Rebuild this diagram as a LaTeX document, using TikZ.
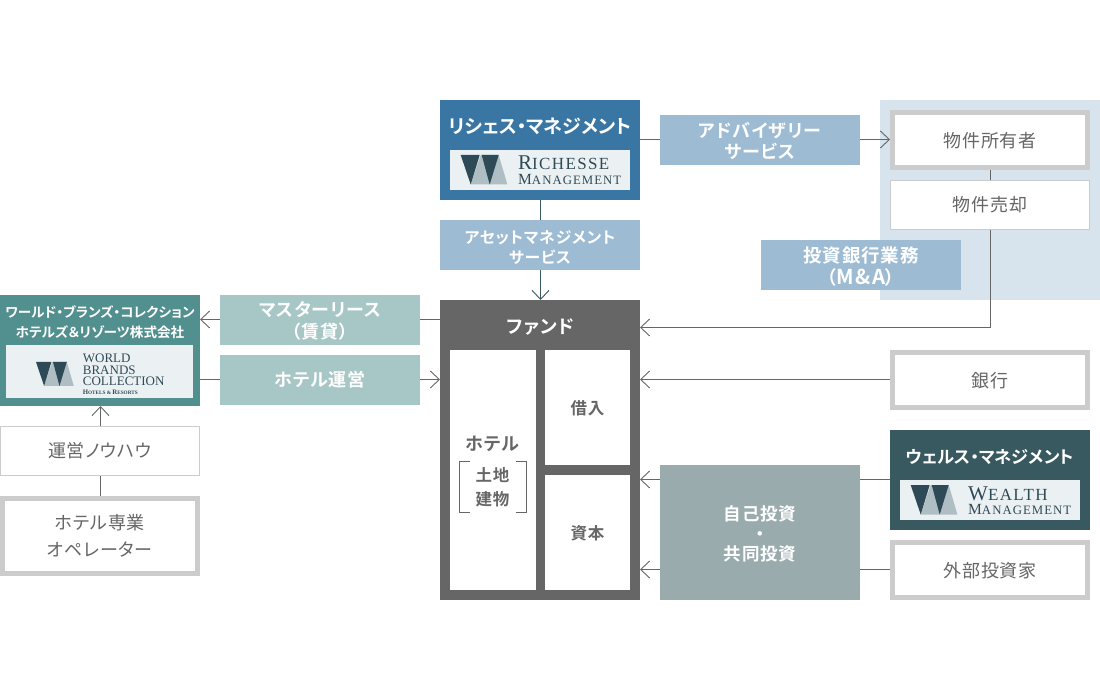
\documentclass[tikz,border=0pt]{standalone}
\usepackage{fontspec}
\setmainfont[RawFeature=+palt,LetterSpace=4]{Noto Sans CJK JP}
\newfontfamily\jpbold[RawFeature=+palt,LetterSpace=5]{Noto Sans CJK JP Bold}
\newfontfamily\jptight[RawFeature=+palt]{Noto Sans CJK JP Bold}
\newfontfamily\logofont[LetterSpace=8]{Liberation Serif}
\newfontfamily\logoplain{Liberation Serif}
\usetikzlibrary{arrows.meta}
\definecolor{richblue}{HTML}{3A76A3}
\definecolor{svcblue}{HTML}{9DBBD2}
\definecolor{palebg}{HTML}{D7E3ED}
\definecolor{tealsvc}{HTML}{A7C7C6}
\definecolor{wbc}{HTML}{528F8F}
\definecolor{fundgrey}{HTML}{666666}
\definecolor{wealth}{HTML}{37595F}
\definecolor{coinv}{HTML}{9AABAD}
\definecolor{frame}{HTML}{CCCCCC}
\definecolor{linegrey}{HTML}{666666}
\definecolor{txtgrey}{HTML}{666666}
\definecolor{logodark}{HTML}{2F4A57}
\definecolor{logolight}{HTML}{AEBEC3}
\definecolor{logobg}{HTML}{EBF1F3}
\newcommand{\lowr}[2][1.5pt]{\raisebox{-#1}[\height][\depth]{\begin{tabular}{@{}c@{}}#2\end{tabular}}}
\tikzset{
 x=1pt,y=-1pt,
 boxfill/.style={inner sep=0pt,outer sep=0pt,align=center,anchor=north west,text=white,font=\jpbold},
 thickbox/.style={draw=frame,line width=5pt,fill=white,inner sep=0pt,outer sep=2.5pt,align=center,anchor=north west,text=txtgrey,font=\fontsize{18}{27}\selectfont},
 thinbox/.style={draw=frame,line width=1pt,fill=white,inner sep=0pt,outer sep=.5pt,align=center,anchor=north west,text=txtgrey,font=\fontsize{18}{26}\selectfont},
 inner/.style={fill=white,inner sep=0pt,outer sep=0pt,align=center,anchor=north west,text=txtgrey,font=\jpbold\fontsize{16.5}{24}\selectfont},
 link/.style={draw=linegrey,line width=.9pt},
 arr/.style={link,-{Straight Barb[length=9pt,width=17pt,line width=.9pt]}},
 logobox/.style={fill=logobg,inner sep=0pt,anchor=north west},
 logotxt/.style={text=logodark,inner sep=0pt,anchor=base west},
}
\newcommand{\wmark}[3]{% x y scale
 \begin{scope}[shift={(#1,#2)},scale=#3]
 \fill[logolight] (10,29.5) -- (20,0) -- (38,0) -- (46.7,29.5) -- cycle;
 \fill[logodark] (0,0) -- (19,0) -- (10,29.5) -- cycle;
 \fill[logodark] (21,0) -- (38,0) -- (29,29.5) -- cycle;
 \end{scope}}
\begin{document}
\begin{tikzpicture}
\useasboundingbox (0,0) rectangle (1100,700);
\fill[white] (0,0) rectangle (1100,700);
\fill[palebg] (880,100) rectangle (1100,300);
% nodes
\node[boxfill,fill=richblue,minimum width=200pt,minimum height=100pt] (rich) at (440,100) {};
\node[text=white,font=\jptight\fontsize{19}{22}\selectfont,inner sep=0pt] (richt) at (540,126) {リシェス・マネジメント};
\node[logobox,minimum width=180pt,minimum height=40pt] (richl) at (450,150) {};
\wmark{460.7}{155}{1}
\node[logotxt,font=\logofont\fontsize{17}{17}\selectfont] (richa) at (518,170) {{\fontsize{21}{21}\selectfont R}ICHESSE};
\node[logotxt,font=\logofont\fontsize{12.8}{14}\selectfont] (richb) at (518,184.5) {{\fontsize{15.5}{15}\selectfont M}ANAGEMENT};

\node[boxfill,fill=svcblue,minimum width=200pt,minimum height=50pt,font=\jpbold\fontsize{15.8}{20}\selectfont] (am) at (440,220) {\lowr[5pt]{アセットマネジメント\\サービス}};
\node[boxfill,fill=svcblue,minimum width=200pt,minimum height=50pt,font=\jpbold\fontsize{18}{20}\selectfont] (adv) at (660,115) {\lowr[3.5pt]{アドバイザリー\\サービス}};
\node[thickbox,minimum width=195pt,minimum height=55pt] (own) at (890,110) {\lowr[2.5pt]{物件所有者}};
\node[thinbox,minimum width=199pt,minimum height=49pt] (sell) at (890,180) {\lowr[1.5pt]{物件売却}};
\node[boxfill,fill=svcblue,minimum width=200pt,minimum height=50pt,font=\jpbold\fontsize{18.5}{21}\selectfont] (ib) at (761,240) {\lowr[3.5pt]{投資銀行業務\\（{\fontsize{20.5}{21}\selectfont\addfontfeature{LetterSpace=8}M\&A}）}};

\node[boxfill,fill=fundgrey,minimum width=200pt,minimum height=300pt] (fund) at (440,300) {};
\node[text=white,font=\jpbold\fontsize{18.5}{20}\selectfont,inner sep=0pt] (fundt) at (540.5,327) {ファンド};
\node[inner,minimum width=86pt,minimum height=240pt] (hotel) at (450,350) {};
\node[inner,minimum width=85pt,minimum height=115pt] (debt) at (545,350) {\lowr[2pt]{借入}};
\node[inner,minimum width=85pt,minimum height=115pt] (cap) at (545,475) {\lowr[2pt]{資本}};
\node[text=txtgrey,font=\jpbold\fontsize{18}{20}\selectfont,inner sep=0pt] (hotelt) at (492,444) {ホテル};
\node[text=txtgrey,font=\jpbold\fontsize{16.5}{24}\selectfont,inner sep=0pt,align=center] (land) at (492.5,487) {土地\\建物};
\draw[linegrey,line width=.7pt] (469.5,461.5) -- (459.5,461.5) -- (459.5,512.5) -- (469.5,512.5);
\draw[linegrey,line width=.7pt] (516,461.5) -- (526,461.5) -- (526,512.5) -- (516,512.5);

\node[boxfill,fill=tealsvc,minimum width=200pt,minimum height=50pt,font=\jpbold\fontsize{18}{21}\selectfont] (ml) at (220,295) {\lowr[3.5pt]{マスターリース\\（賃貸）}};
\node[boxfill,fill=tealsvc,minimum width=200pt,minimum height=50pt,font=\jpbold\fontsize{18}{23}\selectfont] (ops) at (220,355) {\lowr[2pt]{ホテル運営}};
\node[boxfill,fill=wbc,minimum width=200pt,minimum height=111pt] (wbc) at (0,295) {};
\node[text=white,font=\jptight\fontsize{13.6}{20}\selectfont,inner sep=0pt,align=center] (wbct) at (100,322) {ワールド・ブランズ・コレクション\\ホテルズ＆リゾーツ株式会社};
\node[logobox,minimum width=187pt,minimum height=52.5pt] (wbcl) at (6,345.3) {};
\wmark{36}{362}{.81}
\node[logotxt,font=\logoplain\fontsize{13}{13}\selectfont] (wbca) at (82.7,362.3) {WORLD};
\node[logotxt,font=\logoplain\fontsize{13}{13}\selectfont] (wbcm) at (82.7,374.2) {BRANDS};
\node[logotxt,font=\logoplain\fontsize{13}{13}\selectfont] (wbcn) at (82.7,385.8) {COLLECTION};
\node[logotxt,font=\logoplain\bfseries\fontsize{5.2}{6}\selectfont] (wbcb) at (82.7,394.2) {{\fontsize{6.8}{6}\selectfont H}OTELS \& {\fontsize{6.8}{6}\selectfont R}ESORTS};
\node[thinbox,minimum width=199pt,minimum height=49pt] (know) at (0,426) {\lowr[1.5pt]{運営ノウハウ}};
\node[thickbox,minimum width=195pt,minimum height=75pt] (hop) at (0,496) {\lowr[1.5pt]{ホテル専業\\オペレーター}};

\node[thickbox,minimum width=195pt,minimum height=55pt] (bank) at (890,350) {\lowr[2.5pt]{銀行}};
\node[boxfill,fill=wealth,minimum width=200pt,minimum height=100pt] (wm) at (890,430) {};
\node[text=white,font=\jptight\fontsize{17.2}{22}\selectfont,inner sep=0pt] (wmt) at (990,457.5) {ウェルス・マネジメント};
\node[logobox,minimum width=180pt,minimum height=40pt] (wml) at (900,480) {};
\wmark{910.7}{485}{1}
\node[logotxt,font=\logofont\fontsize{17}{17}\selectfont] (wma) at (968,500) {{\fontsize{21}{21}\selectfont W}EALTH};
\node[logotxt,font=\logofont\fontsize{12.8}{14}\selectfont] (wmb) at (968,514.8) {{\fontsize{15.5}{15}\selectfont M}ANAGEMENT};
\node[thickbox,minimum width=195pt,minimum height=55pt] (ext) at (890,540) {\lowr[2.5pt]{外部投資家}};
\node[boxfill,fill=coinv,minimum width=200pt,minimum height=135pt,font=\jpbold\fontsize{17.5}{20}\selectfont] (co) at (660,465) {\lowr[3.5pt]{自己投資\\[0pt]・\\[0pt]共同投資}};

% connectors
\coordinate (xo) at (540.5,0);
\draw[link] (rich.east |- 0,139.5) -- (adv.west |- 0,139.5);
\draw[arr] (adv.east |- 0,139.5) -- (own.west |- 0,139.5);
\draw[link] (own.south -| 990.5,0) -- (sell.north -| 990.5,0);
\draw[link,draw=wealth] (rich.south -| xo) -- (am.north -| xo);
\draw[arr,draw=wealth] (am.south -| xo) -- (fund.north -| xo);
\draw[arr] (sell.south -| 990.5,0) |- (fund.east |- 0,327.5);
\draw[link] (fund.west |- 0,319.5) -- (ml.east |- 0,319.5);
\draw[arr] (ml.west |- 0,319.5) -- (wbc.east |- 0,319.5);
\draw[link] (wbc.east |- 0,379.5) -- (ops.west |- 0,379.5);
\draw[arr] (ops.east |- 0,379.5) -- (fund.west |- 0,379.5);
\draw[arr] (know.north -| 100.5,0) -- (wbc.south -| 100.5,0);
\draw[link] (hop.north -| 100.5,0) -- (know.south -| 100.5,0);
\draw[arr] (bank.west |- 0,379.5) -- (fund.east |- 0,379.5);
\draw[link] (wm.west |- 0,479.5) -- (co.east |- 0,479.5);
\draw[link] (ext.west |- 0,569.5) -- (co.east |- 0,569.5);
\draw[arr] (co.west |- 0,479.5) -- (fund.east |- 0,479.5);
\draw[arr] (co.west |- 0,569.5) -- (fund.east |- 0,569.5);
\end{tikzpicture}
\end{document}
